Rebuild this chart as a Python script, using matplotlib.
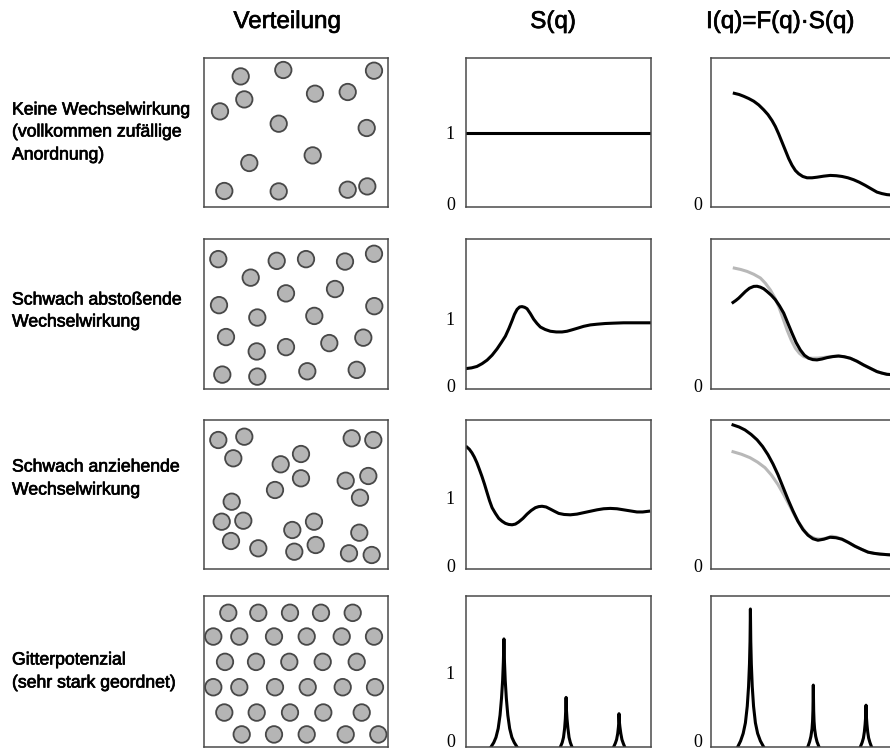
import numpy as np
import matplotlib.pyplot as plt
import matplotlib.patheffects as pe
from matplotlib.patches import Circle
from matplotlib.transforms import ScaledTranslation

W, H = 890, 751

titles = ['Verteilung', 'S(q)', 'I(q)=F(q)·S(q)']
row_labels = [
    ['Keine Wechselwirkung', '(vollkommen zufällige', 'Anordnung)'],
    ['Schwach abstoßende', 'Wechselwirkung'],
    ['Schwach anziehende', 'Wechselwirkung'],
    ['Gitterpotenzial', '(sehr stark geordnet)'],
]

# particle centres inside each box (pixel units, y downwards)
rand_x = [36.7, 79.3, 170, 40.3, 111, 143.7, 16, 74.7, 162.7, 108.7, 45.3, 20.3, 74.7, 143.7, 163.3]
rand_y = [18.4, 12, 12.7, 41.4, 35.7, 34, 53.4, 65.7, 70, 97.4, 105, 133, 133.4, 131.7, 128.4]

rep_x = [14.3, 72.7, 102, 141, 170, 46.7, 82, 131, 15, 53.3, 110.3, 170.3, 22, 159.3, 125.3,
         82, 52.7, 18.3, 53.3, 103.3, 152.7]
rep_y = [20, 21.7, 20, 22.4, 14.7, 38.4, 54, 49.7, 65.7, 78, 76.4, 66.7, 97.4, 98, 103.4,
         107.4, 111.7, 134.7, 136.7, 131.4, 130]

att_x = [14.3, 40.3, 29.3, 147.7, 169.3, 97, 76.7, 97, 71, 141.7, 164.3, 156, 27.7, 17.7,
         39.3, 27, 54.3, 88.3, 110, 90.3, 111.7, 155.3, 145, 167.7]
att_y = [20, 16.7, 38.3, 18.3, 20, 34, 44.3, 58.3, 70, 60.7, 56, 77.7, 81.7, 101.7,
         100.7, 121, 128.3, 110, 101.7, 131.7, 125, 112.7, 133.3, 135]

lat_x = [24.3, 54.3, 86, 117, 148.7,
         9.3, 35.3, 70, 102.7, 137.7, 170,
         21, 52, 85.3, 118.7, 152.7,
         9.3, 35.3, 71, 103.7, 138.7, 171,
         20.3, 52.7, 86, 119.3, 157.7,
         37.7, 70, 102.7, 141.7, 174.3]
lat_y = [16.6] * 5 + [40] * 6 + [65] * 5 + [90] * 6 + [115] * 5 + [136.6] * 5

# S(q) curves
sq_none_x = [0, 10]
sq_none_y = [1, 1]

sq_rep_x = [0, 0.30, 0.59, 0.87, 1.14, 1.41, 1.68, 1.91, 2.13, 2.32, 2.49, 2.62, 2.76, 2.90,
            3.03, 3.17, 3.30, 3.48, 3.66, 3.84, 4.02, 4.28, 4.56, 4.88, 5.19, 5.46, 5.73,
            6.05, 6.36, 6.72, 7.08, 7.53, 7.98, 8.52, 9.06, 9.53, 10]
sq_rep_y = [0.29, 0.30, 0.32, 0.36, 0.41, 0.48, 0.57, 0.66, 0.75, 0.86, 0.97, 1.06, 1.13,
            1.165, 1.17, 1.16, 1.14, 1.07, 0.99, 0.93, 0.88, 0.845, 0.82, 0.81, 0.81, 0.82,
            0.84, 0.865, 0.89, 0.91, 0.92, 0.93, 0.935, 0.94, 0.94, 0.94, 0.94]

sq_att_x = [0.05, 0.18, 0.32, 0.45, 0.59, 0.72, 0.86, 1.00, 1.14, 1.27, 1.41, 1.59, 1.77,
            1.95, 2.13, 2.31, 2.49, 2.67, 2.85, 3.08, 3.30, 3.52, 3.75, 3.93, 4.11, 4.33,
            4.56, 4.78, 5.01, 5.30, 5.64, 6.00, 6.36, 6.72, 7.08, 7.44, 7.80, 8.16, 8.52,
            8.88, 9.24, 9.55, 9.87]
sq_att_y = [1.71, 1.68, 1.63, 1.57, 1.49, 1.40, 1.30, 1.19, 1.07, 0.96, 0.86, 0.78, 0.71,
            0.67, 0.64, 0.625, 0.62, 0.63, 0.66, 0.71, 0.77, 0.82, 0.86, 0.875, 0.88, 0.87,
            0.84, 0.81, 0.78, 0.765, 0.76, 0.77, 0.79, 0.81, 0.83, 0.845, 0.85, 0.845, 0.83,
            0.815, 0.80, 0.80, 0.81]

sq_lat_x = [
    [1.35, 1.50, 1.62, 1.74, 1.84, 1.92, 1.98, 2.02, 2.05, 2.08, 2.12, 2.18, 2.26, 2.36,
     2.48, 2.61, 2.76],
    [5.10, 5.20, 5.27, 5.33, 5.37, 5.39, 5.41, 5.43, 5.46, 5.51, 5.57, 5.64, 5.73],
    [7.98, 8.07, 8.14, 8.20, 8.24, 8.26, 8.27, 8.29, 8.32, 8.37, 8.43, 8.50, 8.58],
]
sq_lat_y = [
    [0, 0.06, 0.13, 0.25, 0.43, 0.66, 0.90, 1.15, 1.46, 1.15, 0.90, 0.66, 0.43, 0.25,
     0.13, 0.06, 0],
    [0, 0.06, 0.13, 0.25, 0.38, 0.50, 0.67, 0.50, 0.38, 0.25, 0.13, 0.06, 0],
    [0, 0.05, 0.10, 0.18, 0.27, 0.34, 0.45, 0.34, 0.27, 0.18, 0.10, 0.05, 0],
]

# I(q) curves
iq_none_x = [1.26, 1.52, 1.77, 2.04, 2.31, 2.58, 2.85, 3.08, 3.30, 3.48, 3.66, 3.84, 4.02,
             4.20, 4.38, 4.56, 4.74, 4.96, 5.19, 5.46, 5.73, 6.09, 6.45, 6.77, 7.08, 7.40,
             7.71, 8.02, 8.34, 8.66, 8.97, 9.24, 9.51, 10]
iq_none_y = [0.763, 0.755, 0.743, 0.728, 0.71, 0.685, 0.652, 0.62, 0.58, 0.54, 0.49, 0.435,
             0.38, 0.325, 0.28, 0.245, 0.223, 0.205, 0.196, 0.196, 0.20, 0.207, 0.212,
             0.21, 0.205, 0.196, 0.183, 0.166, 0.145, 0.122, 0.10, 0.09, 0.083, 0.078]

iq_rep_ff_x = [1.26, 1.60, 1.95, 2.31, 2.67, 2.94, 3.21, 3.44, 3.66, 3.88, 4.11, 4.34, 4.56,
               4.78, 5.01, 5.24, 5.46, 5.78, 6.09, 6.45, 6.81, 7.17, 7.53, 7.89, 8.25, 8.61,
               8.97, 9.24, 9.51, 10]
iq_rep_ff_y = [0.806, 0.797, 0.784, 0.765, 0.74, 0.705, 0.66, 0.61, 0.55, 0.475, 0.394,
               0.325, 0.272, 0.238, 0.216, 0.207, 0.205, 0.206, 0.21, 0.216, 0.22, 0.215,
               0.205, 0.185, 0.16, 0.138, 0.116, 0.106, 0.098, 0.094]
iq_rep_x = [1.19, 1.34, 1.50, 1.68, 1.86, 2.08, 2.31, 2.49, 2.67, 2.85, 3.03, 3.26, 3.48,
            3.70, 3.93, 4.15, 4.38, 4.60, 4.83, 5.05, 5.28, 5.50, 5.73, 6.00, 6.27, 6.58,
            6.90, 7.21, 7.53, 7.89, 8.25, 8.61, 8.97, 9.24, 9.51, 10]
iq_rep_y = [0.577, 0.59, 0.606, 0.628, 0.65, 0.672, 0.684, 0.685, 0.679, 0.668, 0.65,
            0.625, 0.595, 0.555, 0.506, 0.44, 0.372, 0.31, 0.26, 0.225, 0.205, 0.196,
            0.194, 0.2, 0.209, 0.216, 0.22, 0.215, 0.205, 0.185, 0.16, 0.138, 0.116,
            0.106, 0.098, 0.094]

iq_att_ff_x = [1.19, 1.65, 2.11, 2.52, 2.92, 3.27, 3.62, 3.95, 4.27, 4.54, 4.81, 5.08,
               5.35, 5.62, 5.89, 6.22, 6.54, 6.81, 7.08, 7.43, 7.78, 8.14, 8.49, 8.82,
               9.14, 9.55, 9.95]
iq_att_ff_y = [0.787, 0.77, 0.747, 0.717, 0.68, 0.63, 0.567, 0.495, 0.42, 0.355, 0.30,
               0.252, 0.22, 0.205, 0.20, 0.207, 0.22, 0.213, 0.20, 0.178, 0.153, 0.132,
               0.113, 0.105, 0.10, 0.096, 0.093]
iq_att_x = [1.19, 1.52, 1.84, 2.17, 2.49, 2.79, 3.08, 3.35, 3.62, 3.89, 4.16, 4.43, 4.70,
            4.97, 5.24, 5.51, 5.78, 6.10, 6.43, 6.75, 7.08, 7.43, 7.78, 8.14, 8.49, 8.82,
            9.14, 9.55, 9.95]
iq_att_y = [0.967, 0.953, 0.933, 0.903, 0.867, 0.822, 0.767, 0.705, 0.633, 0.55, 0.467,
            0.39, 0.32, 0.265, 0.227, 0.203, 0.193, 0.2, 0.213, 0.21, 0.20, 0.178, 0.153,
            0.132, 0.113, 0.105, 0.10, 0.096, 0.093]

iq_lat_x = [
    [1.44, 1.60, 1.74, 1.86, 1.96, 2.03, 2.08, 2.11, 2.13, 2.15, 2.18, 2.23, 2.30, 2.40,
     2.52, 2.67, 2.85],
    [5.23, 5.33, 5.40, 5.46, 5.49, 5.51, 5.53, 5.55, 5.57, 5.60, 5.66, 5.73, 5.84],
    [8.07, 8.17, 8.24, 8.29, 8.33, 8.36, 8.38, 8.40, 8.43, 8.47, 8.52, 8.59, 8.68],
]
iq_lat_y = [
    [0, 0.04, 0.09, 0.16, 0.27, 0.40, 0.55, 0.70, 0.914, 0.70, 0.55, 0.40, 0.27, 0.16,
     0.09, 0.04, 0],
    [0, 0.035, 0.07, 0.12, 0.17, 0.24, 0.41, 0.24, 0.17, 0.12, 0.07, 0.035, 0],
    [0, 0.03, 0.06, 0.10, 0.15, 0.20, 0.277, 0.20, 0.15, 0.10, 0.06, 0.03, 0],
]

# ---------------------------- layout ---------------------------- #

row_top = [58, 239, 420, 596]
row_bot = [207, 389, 569, 747]
col_left = [204, 466, 711]
col_w = [184, 185, 185]
sq_ymax = [2.0, 2.13, 2.09, 2.04]
zero_lift = [3.5, 3.5, 3.5, 6.5]   # px the "0" label sits above the axis

spine_c = '#4a4a4a'
sans = 'Liberation Sans'
serif = 'Liberation Serif'
heavy = [pe.withStroke(linewidth=0.5, foreground='black')]


def px_axes(fig, col, row):
    l = col_left[col] / W
    b = (H - row_bot[row]) / H
    return fig.add_axes([l, b, col_w[col] / W, (row_bot[row] - row_top[row]) / H])


def style(ax):
    for s in ax.spines.values():
        s.set_color(spine_c)
        s.set_linewidth(1.1)
    ax.set_xticks([])


def tick_labels(ax, ticks, pad, lift):
    ax.set_yticks(ticks)
    ax.tick_params(axis='y', length=0, pad=pad, labelsize=13)
    up = ScaledTranslation(0, lift / 100, fig.dpi_scale_trans)
    for t, lab in zip(ticks, ax.get_yticklabels()):
        lab.set_family(serif)
        if t == 0:
            lab.set_transform(lab.get_transform() + up)


fig = plt.figure(figsize=(W / 100, H / 100), dpi=100)

title_x = [287, 553, 780]
for t, x in zip(titles, title_x):
    fig.text(x / W, 1 - 22 / H, t, ha='center', va='center', fontsize=17.4, family=sans,
             path_effects=heavy)

label_y = [[110, 132, 155], [300, 322], [467, 490], [660, 683]]
for lines, ys in zip(row_labels, label_y):
    for s, y in zip(lines, ys):
        fig.text(12 / W, 1 - y / H, s, ha='left', va='center', fontsize=12.7, family=sans,
                 path_effects=heavy)

dists = [(rand_x, rand_y), (rep_x, rep_y), (att_x, att_y), (lat_x, lat_y)]
for r, (cx, cy) in enumerate(dists):
    ax = px_axes(fig, 0, r)
    ax.set_xlim(0, 184)
    ax.set_ylim(149, 0)
    style(ax)
    ax.set_yticks([])
    for x, y in zip(cx, cy):
        ax.add_patch(Circle((x, y), 8.2, facecolor='#b5b5b5', edgecolor='#484848', lw=1.3))

sq_curves = [[(sq_none_x, sq_none_y)], [(sq_rep_x, sq_rep_y)], [(sq_att_x, sq_att_y)],
             list(zip(sq_lat_x, sq_lat_y))]
for r, curves in enumerate(sq_curves):
    ax = px_axes(fig, 1, r)
    ax.set_xlim(0, 10)
    ax.set_ylim(0, sq_ymax[r])
    style(ax)
    tick_labels(ax, [0, 1], 8, zero_lift[r])
    for x, y in curves:
        ax.plot(x, y, color='black', lw=2.2, solid_joinstyle='round')

iq_gray = [None, (iq_rep_ff_x, iq_rep_ff_y), (iq_att_ff_x, iq_att_ff_y), None]
iq_curves = [[(iq_none_x, iq_none_y)], [(iq_rep_x, iq_rep_y)], [(iq_att_x, iq_att_y)],
             list(zip(iq_lat_x, iq_lat_y))]
for r, curves in enumerate(iq_curves):
    ax = px_axes(fig, 2, r)
    ax.set_xlim(0, 10)
    ax.set_ylim(0, 1)
    style(ax)
    tick_labels(ax, [0], 6.5, zero_lift[r])
    if iq_gray[r] is not None:
        ax.plot(iq_gray[r][0], iq_gray[r][1], color='#b8b8b8', lw=2.2, solid_joinstyle='round')
    for x, y in curves:
        ax.plot(x, y, color='black', lw=2.2, solid_joinstyle='round')

fig.savefig('out.png', dpi=100)
